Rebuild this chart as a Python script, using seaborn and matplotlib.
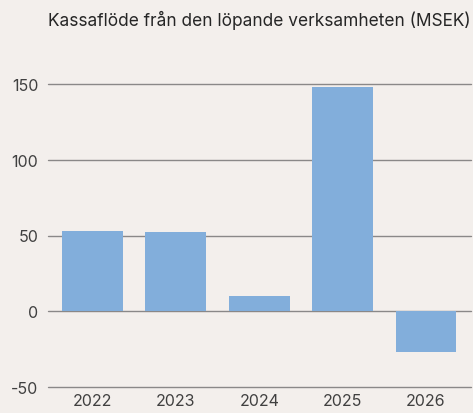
import matplotlib
matplotlib.use('Agg')
import matplotlib.pyplot as plt
import seaborn as sns
import pandas as pd

# ── Data ──────────────────────────────────────────────────────────────────────
years  = ['2022', '2023', '2024', '2025', '2026']
values = [53, 52.3, 10, 148, -27]
yticks = [-50, 0, 50, 100, 150]

TITLE = 'Kassaflöde från den löpande verksamheten (MSEK)'
BG    = '#F3EFEC'
BAR   = '#82AEDB'
TXT   = '#404040'

sns.set_style('white')
plt.rcParams['font.family'] = ['Inter', 'DejaVu Sans']

df = pd.DataFrame({'year': years, 'value': values})

fig = plt.figure(figsize=(4.73, 4.14), dpi=100, facecolor=BG)
ax = fig.add_axes([48 / 473, 26 / 414, 423 / 473, 303 / 414])
ax.set_facecolor(BG)

sns.barplot(data=df, x='year', y='value', color=BAR, width=0.73,
            saturation=1, linewidth=0, edgecolor='none', ax=ax, zorder=3)
for p in ax.patches:
    p.set_clip_on(False)

ax.set_ylim(-50, 150)
ax.set_xlim(-0.534, 4.54)
ax.set_yticks(yticks)
ax.set_yticklabels([str(t) for t in yticks])
for t in yticks:
    ax.axhline(t, color='#8A8888', lw=1.0, zorder=1, clip_on=False)

for s in ax.spines.values():
    s.set_visible(False)
ax.set_xlabel('')
ax.set_ylabel('')
ax.tick_params(axis='both', length=0, labelsize=11.5, colors=TXT)
ax.tick_params(axis='y', pad=7)
ax.tick_params(axis='x', pad=4)

fig.text(48 / 473, 1 - 20 / 414, TITLE, fontsize=12.45, color='#262626',
         ha='left', va='center')

fig.savefig('out.png', dpi=100, facecolor=BG)
